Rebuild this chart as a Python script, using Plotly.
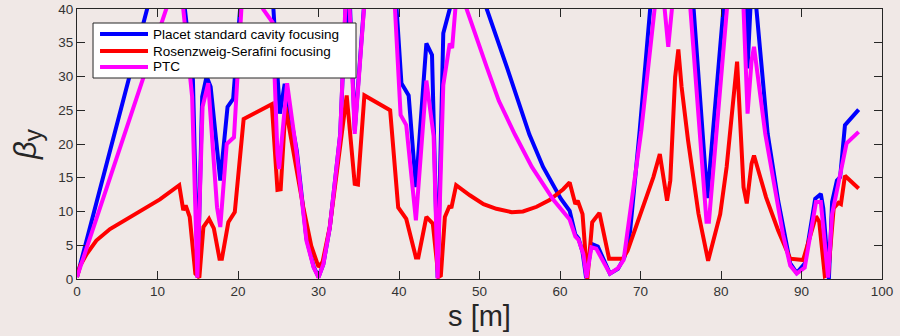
import plotly.graph_objects as go

# ---- data ----
s_placet = [0, 8.65, 12.0, 13.4, 14.4, 15.0, 15.55, 16.1, 16.6, 17.8, 18.7, 19.4, 20.0, 22.2, 24.4,
            25.2, 25.8, 27.3, 28.5, 29.4, 30.0, 30.6, 31.4, 32.7, 33.35, 33.55, 33.68, 33.8, 34.5,
            35.4, 37.5, 39.7, 40.3, 41.2, 42.1, 43.4, 44.1, 44.8, 45.5, 46.3, 48.6, 50.9, 52.0,
            53.4, 54.8, 56.2, 57.9, 60.1, 61.2, 61.9, 62.3, 62.8, 63.25, 63.9, 64.7, 66.2, 67.2,
            68.0, 68.7, 69.9, 71.2, 73.8, 76.6, 78.3, 80.3, 81.7, 83.15, 83.3, 83.65, 84.0, 84.4,
            85.8, 87.1, 87.9, 88.6, 89.4, 90.4, 91.7, 92.4, 92.7, 93.4, 93.8, 94.4, 94.8, 95.4, 97.1]
beta_placet = [0.3, 40, 55, 40, 29.5, 0.2, 27, 30, 28.5, 14.6, 25.5, 26.7, 40, 70, 40,
               24.5, 28.9, 19, 6, 1.8, 0.3, 2.2, 7.6, 21.5, 40, 44, 37.5, 44, 22,
               40, 70, 40, 29, 27.2, 13.6, 34.9, 33.2, 0.2, 36.4, 40, 60, 40, 36.4,
               31.4, 26.4, 21.4, 16.6, 11.9, 10.1, 6.6, 6.0, 4.0, 0.1, 5.2, 4.8, 0.8, 1.5,
               3.2, 7, 22, 40, 75, 40, 12, 40, 60, 40, 31.2, 40, 45, 40,
               21.5, 11.6, 6.6, 2.3, 0.9, 2.3, 11.9, 12.6, 10.5, 0, 11.4, 14.6, 15.1, 22.8, 25.1]

s_rs = [0, 0.4, 1.2, 2.4, 4.1, 6.2, 8.2, 10.3, 12.7, 13.2, 13.5, 14.0, 14.7, 15.2, 15.7, 16.4,
        17.0, 17.7, 18.0, 18.8, 19.6, 20.7, 22.3, 24.2, 24.9, 25.3, 25.9, 28.1, 29.1, 30.0,
        30.5, 31.4, 33.5, 34.5, 34.9, 35.7, 38.9, 39.9, 40.9, 42.1, 42.4, 43.4, 44.2, 44.9,
        45.2, 45.7, 46.3, 46.5, 47.1, 48.8, 50.5, 52.1, 54.0, 55.4, 57.1, 58.7, 60.4, 61.2,
        61.9, 62.2, 62.8, 63.4, 64.0, 64.9, 66.1, 67.8, 68.4, 69.9, 71.6, 72.4, 73.3, 73.7,
        74.3, 74.7, 75.1, 75.9, 77.2, 78.4, 79.9, 80.7, 81.5, 82.0, 82.8, 83.2, 83.8, 84.1,
        85.6, 87.1, 88.6, 90.2, 91.8, 92.2, 92.9, 93.3, 94.0, 94.6, 94.9, 95.4, 97.1]
beta_rs = [0.3, 2.0, 3.7, 5.7, 7.4, 8.9, 10.4, 11.8, 13.9, 10.2, 10.9, 9.2, 0.8, 0.2, 7.7, 8.9,
           7.5, 3.0, 3.0, 8.4, 9.9, 23.7, 24.7, 25.9, 13.2, 13.3, 25.5, 10.7, 4.9, 1.8,
           2.5, 7.7, 27.2, 14.1, 14.0, 27.2, 25.0, 10.6, 8.9, 3.2, 3.2, 9.2, 8.2, 0.3,
           0.5, 9.2, 10.9, 10.5, 13.9, 12.4, 11.1, 10.4, 9.9, 10.0, 10.7, 11.7, 13.3, 14.3,
           11.1, 11.6, 9.6, 0.0, 8.4, 9.8, 3.0, 3.0, 4.2, 9.2, 15.1, 18.5, 11.6, 14.6,
           29.9, 34.0, 28.5, 20.6, 9.7, 2.7, 9.6, 16.6, 25.5, 32.2, 13.6, 11.2, 17.1, 18.3,
           12.1, 7.2, 3.0, 2.8, 9.3, 8.5, 0.4, 0.6, 10.5, 11.3, 11.1, 15.3, 13.4]

s_ptc = [0, 11.1, 12.2, 13.2, 14.3, 14.95, 15.6, 16.3, 17.4, 17.8, 18.6, 19.5, 20.25, 21.0, 22.0,
         23.1, 24.3, 24.9, 25.1, 26.1, 27.3, 28.5, 29.4, 30.0, 30.6, 31.4, 32.7, 33.3, 33.6,
         34.5, 35.4, 37.5, 39.5, 40.2, 40.9, 42.1, 43.4, 44.3, 44.8, 45.5, 46.3, 46.6, 47.0,
         47.7, 48.4, 49.4, 50.9, 52.4, 54.4, 56.5, 59.2, 61.2, 61.9, 62.3, 62.9, 63.3, 63.9,
         64.5, 66.2, 67.2, 67.9, 70.1, 71.6, 72.3, 73.0, 73.45, 73.9, 75.0, 76.2, 78.2, 78.5,
         80.7, 81.8, 82.8, 83.3, 83.8, 84.1, 85.5, 86.9, 87.7, 88.6, 89.4, 90.4, 91.8, 92.4,
         92.8, 93.3, 93.8, 94.6, 95.6, 97.1]
beta_ptc = [0.3, 40, 44, 40, 27, 0.2, 25.5, 29.0, 10.6, 7.7, 20.0, 21.0, 40, 52, 45,
            40, 38, 18.5, 16.3, 29, 18.5, 5.7, 1.7, 0.2, 2.2, 7.6, 21.5, 40, 48,
            21.5, 40, 70, 40, 24.3, 22.8, 8.7, 29.4, 21.2, 0.1, 28.7, 34.9, 34.2, 40,
            42, 40, 36.4, 31.4, 26.4, 21.4, 16.6, 11.7, 8.8, 6.3, 5.8, 3.7, 0.2, 4.7,
            4.5, 0.8, 1.6, 2.8, 22, 40, 46, 40, 34.4, 40, 55, 40, 8.5, 8.5,
            40, 55, 40, 24.5, 32.4, 34.4, 21.5, 11.6, 6.6, 2.0, 0.8, 1.7, 11.4, 11.4,
            6.0, 0.2, 9.6, 14.1, 20.1, 21.8]

series_names = ["Placet standard cavity focusing", "Rosenzweig-Serafini focusing", "PTC"]
series_colors = ["#0000ff", "#ff0000", "#ff00ff"]

x_ticks = list(range(0, 101, 10))
y_ticks = list(range(0, 41, 5))

BG = "rgb(240,232,230)"
AX = "#262626"
FONT = "Arial, 'Liberation Sans', Helvetica, sans-serif"

fig = go.Figure()
for xs, ys, name, col in zip([s_placet, s_rs, s_ptc], [beta_placet, beta_rs, beta_ptc],
                             series_names, series_colors):
    fig.add_trace(go.Scatter(x=xs, y=ys, mode="lines", name=name,
                             line=dict(color=col, width=4), showlegend=False))

# ---- legend box (MATLAB style, compact rows) in paper coordinates ----
L_X0, L_X1, L_Y0, L_Y1 = 0.0199, 0.3466, 0.7444, 0.9481
LINE_X0, LINE_X1, TEXT_X = 0.0286, 0.0882, 0.0919
ROW_Y = [0.9074, 0.8444, 0.7852]
fig.add_shape(type="rect", xref="paper", yref="paper", x0=L_X0, x1=L_X1, y0=L_Y0, y1=L_Y1,
              fillcolor="white", line=dict(color=AX, width=1), layer="above")
for name, col, ry in zip(series_names, series_colors, ROW_Y):
    fig.add_shape(type="line", xref="paper", yref="paper", x0=LINE_X0, x1=LINE_X1, y0=ry, y1=ry,
                  line=dict(color=col, width=4), layer="above")
    fig.add_annotation(xref="paper", yref="paper", x=TEXT_X, y=ry, text=name, showarrow=False,
                       xanchor="left", yanchor="middle",
                       font=dict(family=FONT, size=13.5, color="#000000"))

axis_common = dict(showline=True, linecolor=AX, linewidth=1, mirror="ticks",
                   ticks="inside", ticklen=8, tickcolor=AX, tickwidth=1,
                   showgrid=False, zeroline=False, automargin=False,
                   tickfont=dict(family=FONT, size=13.5, color="#333333"))

fig.update_layout(
    width=900, height=336,
    margin=dict(l=77, r=18, t=9, b=57, autoexpand=False),
    paper_bgcolor=BG, plot_bgcolor=BG,
    font=dict(family=FONT, color=AX),
    xaxis=dict(range=[0, 100], tickvals=x_ticks, **axis_common,
               title=dict(text="s [m]", font=dict(family=FONT, size=29, color=AX), standoff=7)),
    yaxis=dict(range=[0, 40], tickvals=y_ticks, **axis_common,
               title=dict(text="<i>β</i><sub><span style='font-size:25px'>y</span></sub>",
                          font=dict(family=FONT, size=31, color=AX), standoff=12)),
    showlegend=False,
)

fig.write_html("out.html", config={"displayModeBar": False},
               post_script="document.body.style.margin='0px';")
